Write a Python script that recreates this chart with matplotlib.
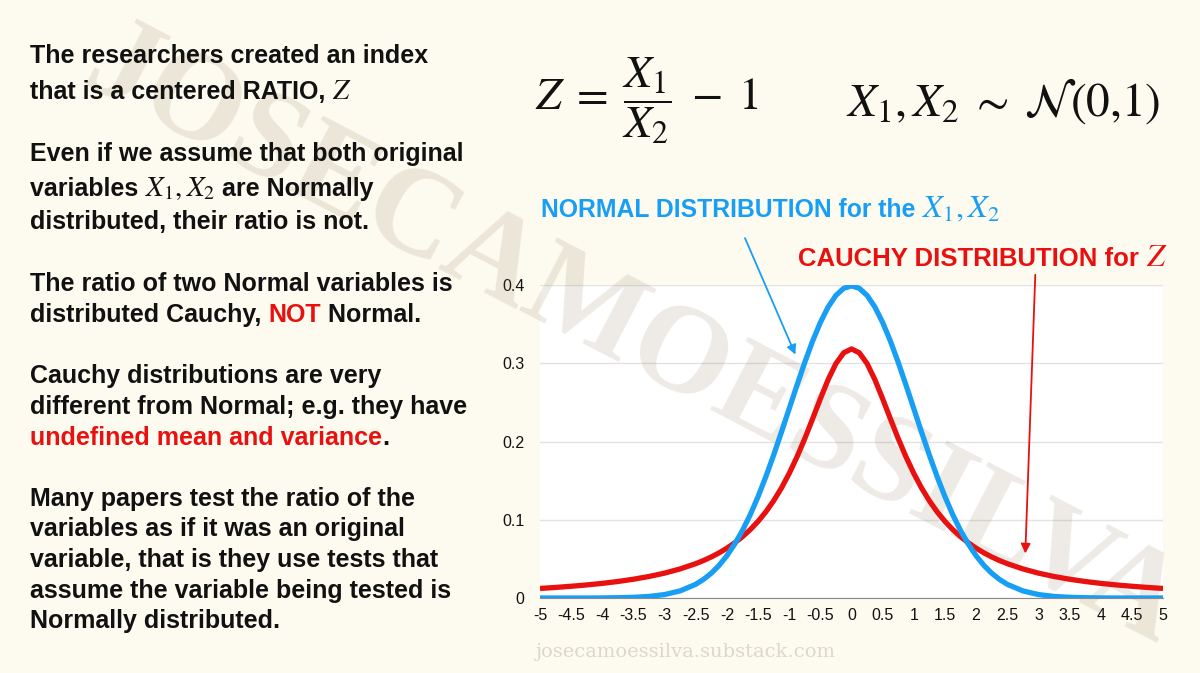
import matplotlib
matplotlib.use('Agg')
import matplotlib.pyplot as plt

# values
x_vals = [-5, -4.75, -4.5, -4.25, -4, -3.75, -3.5, -3.25, -3, -2.75,
          -2.5, -2.375, -2.25, -2.125, -2, -1.875, -1.75, -1.625, -1.5, -1.375,
          -1.25, -1.125, -1, -0.875, -0.75, -0.625, -0.5, -0.375, -0.25, -0.125,
          0, 0.125, 0.25, 0.375, 0.5, 0.625, 0.75, 0.875, 1, 1.125,
          1.25, 1.375, 1.5, 1.625, 1.75, 1.875, 2, 2.125, 2.25, 2.375,
          2.5, 2.75, 3, 3.25, 3.5, 3.75, 4, 4.25, 4.5, 4.75, 5]
normal_pdf = [0.0, 0.0, 0.0, 0.0, 0.0001, 0.0004, 0.0009, 0.0020, 0.0044, 0.0091,
              0.0175, 0.0238, 0.0317, 0.0417, 0.0540, 0.0689, 0.0863, 0.1065, 0.1295, 0.1550,
              0.1826, 0.2119, 0.2420, 0.2720, 0.3011, 0.3282, 0.3521, 0.3719, 0.3867, 0.3958,
              0.3989, 0.3958, 0.3867, 0.3719, 0.3521, 0.3282, 0.3011, 0.2720, 0.2420, 0.2119,
              0.1826, 0.1550, 0.1295, 0.1065, 0.0863, 0.0689, 0.0540, 0.0417, 0.0317, 0.0238,
              0.0175, 0.0091, 0.0044, 0.0020, 0.0009, 0.0004, 0.0001, 0.0, 0.0, 0.0, 0.0]
cauchy_pdf = [0.0122, 0.0135, 0.0150, 0.0167, 0.0187, 0.0211, 0.0240, 0.0275, 0.0318, 0.0372,
              0.0439, 0.0479, 0.0525, 0.0577, 0.0637, 0.0705, 0.0784, 0.0874, 0.0979, 0.1101,
              0.1242, 0.1405, 0.1592, 0.1803, 0.2037, 0.2289, 0.2546, 0.2791, 0.2996, 0.3134,
              0.3183, 0.3134, 0.2996, 0.2791, 0.2546, 0.2289, 0.2037, 0.1803, 0.1592, 0.1405,
              0.1242, 0.1101, 0.0979, 0.0874, 0.0784, 0.0705, 0.0637, 0.0577, 0.0525, 0.0479,
              0.0439, 0.0372, 0.0318, 0.0275, 0.0240, 0.0211, 0.0187, 0.0167, 0.0150, 0.0135, 0.0122]
x_ticks = [-5, -4.5, -4, -3.5, -3, -2.5, -2, -1.5, -1, -0.5, 0, 0.5, 1, 1.5, 2, 2.5, 3, 3.5, 4, 4.5, 5]
x_tick_labels = ['-5', '-4.5', '-4', '-3.5', '-3', '-2.5', '-2', '-1.5', '-1', '-0.5', '0',
                 '0.5', '1', '1.5', '2', '2.5', '3', '3.5', '4', '4.5', '5']
y_ticks = [0, 0.1, 0.2, 0.3, 0.4]
y_tick_labels = ['0', '0.1', '0.2', '0.3', '0.4']

BG = '#FDFAF0'
BLUE = '#189FF5'
RED = '#E8110F'
BLACK = '#111111'
W, H = 1200, 673

plt.rcParams['mathtext.fontset'] = 'stix'
plt.rcParams['font.family'] = ['Liberation Sans', 'DejaVu Sans']

fig = plt.figure(figsize=(12, 6.73), dpi=100, facecolor=BG)
renderer = fig.canvas.get_renderer()

ax = fig.add_axes([540 / W, 1 - 598 / H, 623 / W, 313 / H])
ax.set_facecolor('white')
ax.plot(x_vals, cauchy_pdf, color=RED, lw=3.8, solid_capstyle='butt', zorder=3)
ax.plot(x_vals, normal_pdf, color=BLUE, lw=3.8, solid_capstyle='butt', zorder=4)
ax.set_xlim(-5, 5)
ax.set_ylim(0, 0.4)
ax.set_xticks(x_ticks)
ax.set_xticklabels(x_tick_labels)
ax.set_yticks(y_ticks)
ax.set_yticklabels(y_tick_labels)
ax.tick_params(length=0, labelsize=11.5, colors=BLACK)
ax.tick_params(axis='x', pad=7)
ax.tick_params(axis='y', pad=11)
for s in ['top', 'left', 'right']:
    ax.spines[s].set_visible(False)
ax.spines['bottom'].set_color('#8a8a8a')
ax.grid(axis='y', color='#e2e2e2', lw=1)
ax.set_axisbelow(True)

# arrows
ax.annotate('', xy=(-0.9, 0.311), xytext=(-1.71, 0.46), annotation_clip=False,
            arrowprops=dict(arrowstyle='-|>', color=BLUE, lw=1.3, mutation_scale=14,
                            shrinkA=0, shrinkB=0))
ax.annotate('', xy=(2.79, 0.057), xytext=(2.95, 0.413), annotation_clip=False,
            arrowprops=dict(arrowstyle='-|>', color=RED, lw=1.3, mutation_scale=14,
                            shrinkA=0, shrinkB=0))

# watermark: above the white plot area, below the curves
ax.text(632 / W, 1 - 338 / H, 'JOSECAMOESSILVA', transform=fig.transFigure,
        fontsize=90, fontweight='bold', family='Liberation Serif',
        color='#8a7550', alpha=0.15, rotation=-27.5, ha='center', va='center',
        rotation_mode='anchor', zorder=2, clip_on=False)


def text_width(s, **kw):
    t = fig.text(0, 0, s + '|', **kw)
    w1 = t.get_window_extent(renderer).width
    t.remove()
    t = fig.text(0, 0, '|', **kw)
    w2 = t.get_window_extent(renderer).width
    t.remove()
    return w1 - w2


def rich_line(x_px, y_px, parts, size, align='left', math_scale=1.15):
    specs = []
    for s, c in parts:
        if s.startswith('$'):
            kw = dict(fontsize=size * math_scale)
        else:
            kw = dict(fontsize=size, fontweight='bold')
        specs.append((s, c, kw, text_width(s, **kw)))
    if align == 'right':
        x_px -= sum(sp[3] for sp in specs)
    for s, c, kw, w in specs:
        fig.text(x_px / W, 1 - y_px / H, s, color=c, va='baseline', **kw)
        x_px += w


lines = [
    (55, [('The researchers created an index', BLACK)]),
    (91, [('that is a centered RATIO, ', BLACK), ('$Z$', BLACK)]),
    (153, [('Even if we assume that both original', BLACK)]),
    (188, [('variables ', BLACK), ('$X_1, X_2$', BLACK), (' are Normally', BLACK)]),
    (221, [('distributed, their ratio is not.', BLACK)]),
    (283, [('The ratio of two Normal variables is', BLACK)]),
    (314, [('distributed Cauchy, ', BLACK), ('NOT', RED), (' Normal.', BLACK)]),
    (375, [('Cauchy distributions are very', BLACK)]),
    (406, [('different from Normal; e.g. they have', BLACK)]),
    (437, [('undefined mean and variance', RED), ('.', BLACK)]),
    (498, [('Many papers test the ratio of the', BLACK)]),
    (528, [('variables as if it was an original', BLACK)]),
    (559, [('variable, that is they use tests that', BLACK)]),
    (590, [('assume the variable being tested is', BLACK)]),
    (620, [('Normally distributed.', BLACK)]),
]
for yc, parts in lines:
    rich_line(30, yc + 8, parts, 18)

# equations
fig.text(535 / W, 1 - 101 / H, r'$Z\;=\;\dfrac{X_1}{X_2}\;-\;1$', fontsize=33, color=BLACK,
         ha='left', va='center')
fig.text(1160 / W, 1 - 101 / H, r'$X_1{,}\,X_2\;\sim\;\mathcal{N}(0{,}1)$', fontsize=34,
         color=BLACK, ha='right', va='center')

# curve labels
rich_line(541, 217, [('NORMAL DISTRIBUTION for the ', BLUE), ('$X_1, X_2$', BLUE)], 17.8,
          math_scale=1.3)
rich_line(1163, 266, [('CAUCHY DISTRIBUTION for ', RED), ('$Z$', RED)], 18.5,
          align='right', math_scale=1.25)

# footer
fig.text(536 / W, 1 - 652 / H, 'josecamoessilva.substack.com', fontsize=14,
         family='DejaVu Serif', color='#dcd8ce', ha='left', va='center')

fig.savefig('out.png', dpi=100, facecolor=BG)
